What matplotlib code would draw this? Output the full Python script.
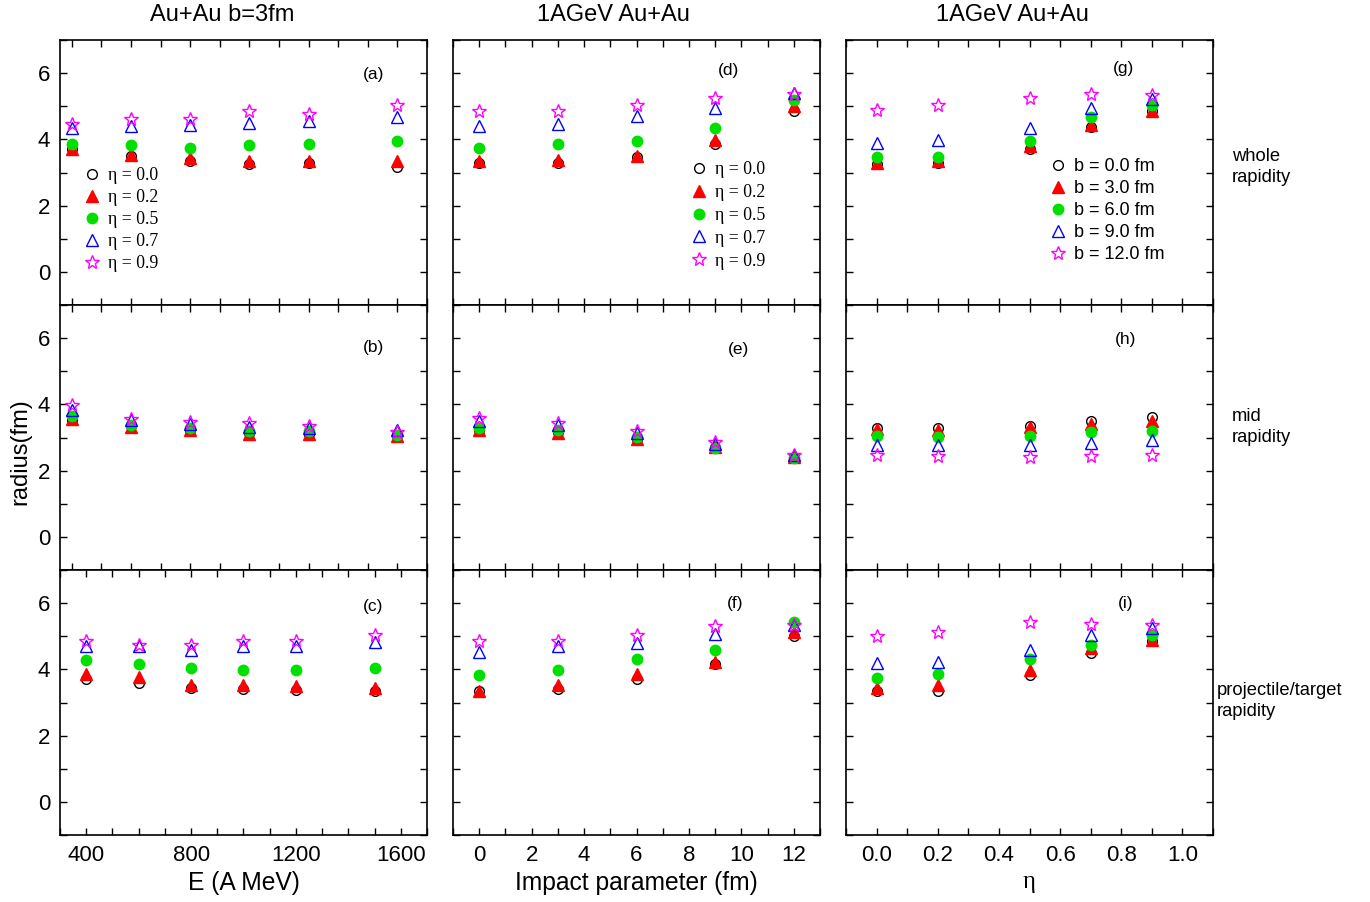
import matplotlib
matplotlib.use("Agg")
import matplotlib.pyplot as plt
from matplotlib.ticker import MultipleLocator

plt.rcParams["font.family"] = ["Liberation Sans", "DejaVu Sans"]

# x values for each column
E_vals = [400, 600, 800, 1000, 1200, 1500]
b_vals = [0, 3, 6, 9, 12]
eta_vals = [0.0, 0.2, 0.5, 0.7, 0.9]

eta_labels = ["η = 0.0", "η = 0.2", "η = 0.5", "η = 0.7", "η = 0.9"]
b_labels = ["b = 0.0 fm", "b = 3.0 fm", "b = 6.0 fm", "b = 9.0 fm", "b = 12.0 fm"]

# radius (fm), one row per series
# column 1: Au+Au b=3fm vs energy, series = eta
whole_vs_E = [
    [3.70, 3.49, 3.34, 3.27, 3.29, 3.17],
    [3.72, 3.54, 3.44, 3.36, 3.34, 3.34],
    [3.87, 3.82, 3.75, 3.84, 3.85, 3.94],
    [4.35, 4.40, 4.42, 4.50, 4.55, 4.67],
    [4.45, 4.63, 4.63, 4.87, 4.77, 5.03],
]
mid_vs_E = [
    [3.52, 3.34, 3.22, 3.14, 3.11, 3.04],
    [3.56, 3.32, 3.24, 3.12, 3.12, 3.04],
    [3.64, 3.39, 3.29, 3.19, 3.19, 3.09],
    [3.83, 3.54, 3.42, 3.32, 3.29, 3.22],
    [3.98, 3.57, 3.47, 3.44, 3.36, 3.17],
]
proj_vs_E = [
    [3.72, 3.58, 3.44, 3.41, 3.37, 3.36],
    [3.87, 3.77, 3.54, 3.54, 3.49, 3.44],
    [4.29, 4.15, 4.03, 3.97, 3.99, 4.03],
    [4.70, 4.70, 4.58, 4.70, 4.70, 4.82],
    [4.85, 4.73, 4.75, 4.87, 4.85, 5.03],
]
# column 2: 1AGeV vs impact parameter, series = eta
whole_vs_b = [
    [3.28, 3.28, 3.47, 3.85, 4.87],
    [3.36, 3.38, 3.49, 3.97, 5.00],
    [3.75, 3.85, 3.95, 4.33, 5.20],
    [4.40, 4.47, 4.70, 4.95, 5.40],
    [4.87, 4.87, 5.05, 5.25, 5.37],
]
mid_vs_b = [
    [3.24, 3.16, 2.96, 2.72, 2.42],
    [3.22, 3.14, 2.96, 2.72, 2.42],
    [3.29, 3.22, 3.01, 2.69, 2.39],
    [3.49, 3.39, 3.14, 2.79, 2.46],
    [3.59, 3.44, 3.19, 2.86, 2.46],
]
proj_vs_b = [
    [3.34, 3.41, 3.72, 4.15, 5.00],
    [3.36, 3.54, 3.87, 4.23, 5.13],
    [3.83, 3.98, 4.30, 4.59, 5.42],
    [4.52, 4.70, 4.80, 5.07, 5.35],
    [4.85, 4.87, 5.05, 5.30, 5.35],
]
# column 3: 1AGeV vs eta, series = b
whole_vs_eta = [
    [3.27, 3.29, 3.72, 4.37, 4.85],
    [3.29, 3.34, 3.80, 4.43, 4.87],
    [3.47, 3.47, 3.95, 4.68, 5.05],
    [3.88, 3.97, 4.35, 4.95, 5.23],
    [4.90, 5.05, 5.25, 5.38, 5.35],
]
mid_vs_eta = [
    [3.29, 3.29, 3.36, 3.49, 3.61],
    [3.26, 3.22, 3.32, 3.42, 3.49],
    [3.04, 3.02, 3.06, 3.17, 3.21],
    [2.76, 2.76, 2.76, 2.84, 2.91],
    [2.46, 2.44, 2.42, 2.44, 2.46],
]
proj_vs_eta = [
    [3.34, 3.34, 3.83, 4.48, 4.85],
    [3.44, 3.54, 3.97, 4.65, 4.88],
    [3.75, 3.85, 4.30, 4.75, 5.05],
    [4.20, 4.23, 4.60, 5.05, 5.25],
    [5.00, 5.12, 5.42, 5.37, 5.35],
]

# marker style per series (same order in every panel)
styles = [
    dict(marker="o", ms=7, mfc="none", mec="black", mew=1.0),
    dict(marker="^", ms=8.5, mfc="red", mec="red", mew=1.0),
    dict(marker="o", ms=7.5, mfc="#00e000", mec="#00e000", mew=1.0),
    dict(marker="^", ms=8.5, mfc="none", mec="blue", mew=1.0),
    dict(marker="*", ms=10, mfc="none", mec="magenta", mew=1.0),
]

fig = plt.figure(figsize=(13.7, 9.02), dpi=100)

W, H = 1370.0, 902.0
col_left = [60, 453, 846]
col_w = 367
row_top = [40, 305, 570]
row_h = 265

panels = [
    [(E_vals, whole_vs_E, "(a)"), (b_vals, whole_vs_b, "(d)"), (eta_vals, whole_vs_eta, "(g)")],
    [(E_vals, mid_vs_E, "(b)"), (b_vals, mid_vs_b, "(e)"), (eta_vals, mid_vs_eta, "(h)")],
    [(E_vals, proj_vs_E, "(c)"), (b_vals, proj_vs_b, "(f)"), (eta_vals, proj_vs_eta, "(i)")],
]
label_pos = [
    [(0.826, 0.87), (0.723, 0.885), (0.728, 0.892)],
    [(0.826, 0.838), (0.749, 0.832), (0.733, 0.87)],
    [(0.824, 0.864), (0.747, 0.875), (0.741, 0.872)],
]

axes = {}
for r in range(3):
    for c in range(3):
        ax = fig.add_axes([col_left[c] / W, 1 - (row_top[r] + row_h) / H,
                           col_w / W, row_h / H])
        axes[(r, c)] = ax
        xs, data, tag = panels[r][c]
        labels = eta_labels if c < 2 else b_labels
        for ys, st, lab in zip(data, styles, labels):
            ax.plot(xs, ys, ls="none", label=lab, **st)

        ax.set_ylim(-1, 7)
        ax.yaxis.set_major_locator(MultipleLocator(2))
        ax.yaxis.set_minor_locator(MultipleLocator(1))
        if c == 0:
            if r < 2:
                ax.set_xlim(360, 1600)
                ax.xaxis.set_major_locator(MultipleLocator(100))
                ax.xaxis.set_minor_locator(MultipleLocator(100))
            else:
                ax.set_xlim(300, 1700)
                ax.xaxis.set_major_locator(MultipleLocator(400))
                ax.xaxis.set_minor_locator(MultipleLocator(100))
        elif c == 1:
            ax.set_xlim(-1, 13)
            ax.xaxis.set_major_locator(MultipleLocator(2))
            ax.xaxis.set_minor_locator(MultipleLocator(1))
        else:
            ax.set_xlim(-0.1, 1.1)
            ax.xaxis.set_major_locator(MultipleLocator(0.2))
            ax.xaxis.set_minor_locator(MultipleLocator(0.1))
            ax.xaxis.set_major_formatter(plt.FuncFormatter(lambda v, p: f"{v:.1f}"))

        ax.tick_params(which="both", direction="in", top=True, right=True,
                       length=5, width=1.0, labelsize=16, pad=7)
        if r < 2:
            ax.tick_params(labelbottom=False)
        if c > 0:
            ax.tick_params(labelleft=False)
        for sp in ax.spines.values():
            sp.set_linewidth(1.2)

        lx, ly = label_pos[r][c]
        ax.text(lx, ly, tag, transform=ax.transAxes, fontsize=12.5,
                ha="left", va="center")

# legends
leg_kw = dict(frameon=False, numpoints=1, borderpad=0, borderaxespad=0,
              handlelength=1.0, handletextpad=0.4)
axes[(0, 0)].legend(loc="upper left", bbox_to_anchor=(0.063, 0.52),
                    labelspacing=0.28,
                    prop={"family": "Liberation Serif", "size": 12.8}, **leg_kw)
axes[(0, 1)].legend(loc="upper left", bbox_to_anchor=(0.646, 0.543),
                    labelspacing=0.33,
                    prop={"family": "Liberation Serif", "size": 12.8}, **leg_kw)
axes[(0, 2)].legend(loc="upper left", bbox_to_anchor=(0.553, 0.555),
                    labelspacing=0.28, prop={"size": 13}, **leg_kw)

# axis labels
axes[(2, 0)].set_xlabel("E (A MeV)", fontsize=17.7, labelpad=4)
axes[(2, 1)].set_xlabel("Impact parameter (fm)", fontsize=17.7, labelpad=4)
axes[(2, 2)].set_xlabel("η", fontsize=17.7, labelpad=4, family="Liberation Serif")
fig.text(20 / W, 1 - 452 / H, "radius(fm)", rotation=90, fontsize=17,
         ha="center", va="center")

# column titles
titles = ["Au+Au b=3fm", "1AGeV Au+Au", "1AGeV Au+Au"]
title_x = [222, 613, 1012]
for t, x in zip(titles, title_x):
    fig.text(x / W, 1 - 15 / H, t, fontsize=17, ha="center", va="center")

# row descriptions on the right
row_texts = ["whole\nrapidity", "mid\nrapidity", "projectile/target\nrapidity"]
row_x = [1232, 1232, 1217]
row_y = [167, 427, 701]
for t, x, y in zip(row_texts, row_x, row_y):
    fig.text(x / W, 1 - y / H, t, fontsize=13.2, ha="left", va="center",
             linespacing=1.38)

fig.savefig("out.png", dpi=100)
